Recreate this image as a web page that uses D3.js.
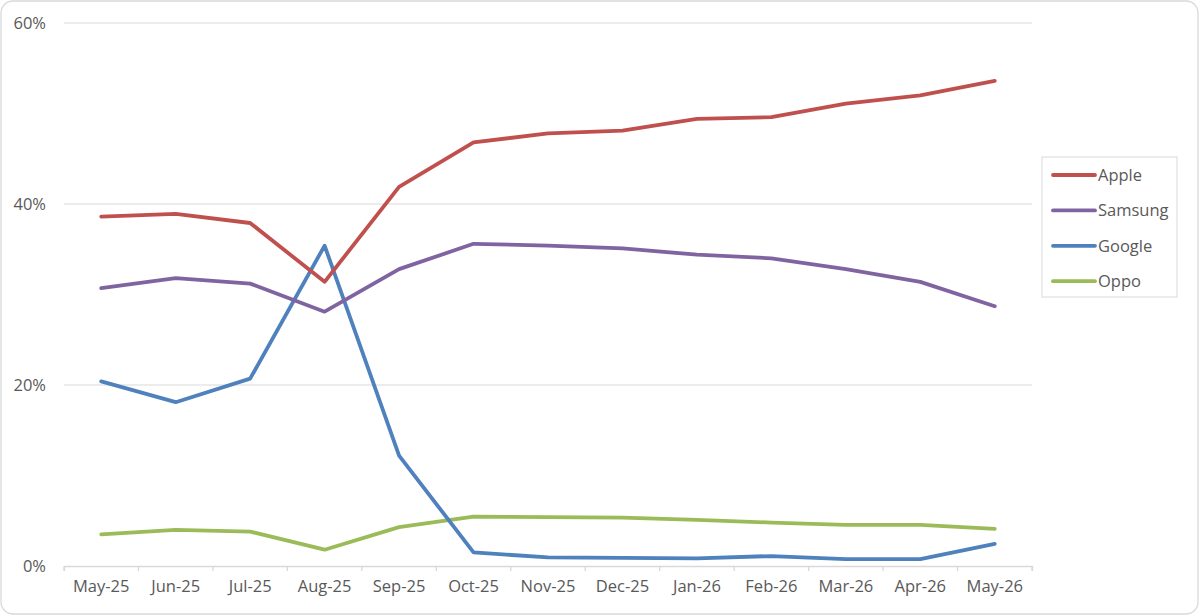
<!DOCTYPE html>
<html>
<head>
<meta charset="utf-8">
<script src="https://cdn.jsdelivr.net/npm/d3@7"></script>
<style>
  body { margin: 0; background: #fff; }
  svg { display: block; }
</style>
</head>
<body>
<div id="chart"></div>
<script>
var width = 1200;
var height = 616;

// months along the bottom
var months = ["May-25", "Jun-25", "Jul-25", "Aug-25", "Sep-25", "Oct-25", "Nov-25",
              "Dec-25", "Jan-26", "Feb-26", "Mar-26", "Apr-26", "May-26"];

// share in percent
var apple   = [38.6, 38.9, 37.9, 31.4, 41.9, 46.8, 47.8, 48.1, 49.4, 49.6, 51.1, 52.0, 53.6];
var samsung = [30.7, 31.8, 31.2, 28.1, 32.8, 35.6, 35.4, 35.1, 34.4, 34.0, 32.8, 31.4, 28.7];
var google  = [20.4, 18.1, 20.7, 35.4, 12.2, 1.5, 0.95, 0.9, 0.85, 1.1, 0.77, 0.75, 2.45];
var oppo    = [3.5, 4.0, 3.8, 1.8, 4.3, 5.45, 5.4, 5.35, 5.1, 4.8, 4.55, 4.55, 4.1];

var seriesNames = ["Apple", "Samsung", "Google", "Oppo"];
var seriesColors = ["#C0504D", "#8064A2", "#4F81BD", "#9BBB59"];
var yTicks = [0, 20, 40, 60];

var seriesData = [apple, samsung, google, oppo];

var svg = d3.select("#chart")
            .append("svg")
            .attr("width", width)
            .attr("height", height)
            .style("font-family", "'Open Sans', sans-serif");

// outer frame
svg.append("rect")
    .attr("x", 1)
    .attr("y", 1)
    .attr("width", width - 3)
    .attr("height", height - 3)
    .attr("rx", 12)
    .attr("fill", "#fff")
    .attr("stroke", "#d9d9d9")
    .attr("stroke-width", 1.3);

var x = d3.scaleBand()
          .domain(months)
          .range([64, 1032]);

var y = d3.scaleLinear()
          .domain([0, 60])
          .range([566, 23]);

// gridlines
svg.append("g")
    .selectAll("line")
    .data(yTicks.filter(d => d > 0))
    .join("line")
    .attr("x1", 64)
    .attr("x2", 1032)
    .attr("y1", d => y(d))
    .attr("y2", d => y(d))
    .attr("stroke", "#d9d9d9")
    .attr("stroke-width", 1);

// y labels
svg.append("g")
    .selectAll("text")
    .data(yTicks)
    .join("text")
    .attr("x", 46)
    .attr("y", d => y(d))
    .attr("dy", "0.35em")
    .attr("text-anchor", "end")
    .attr("fill", "#595959")
    .style("font-size", "16.5px")
    .text(d => d + "%");

// x axis
var xAxis = d3.axisBottom(x)
              .tickSize(5)
              .tickPadding(9);
var gx = svg.append("g")
    .attr("transform", "translate(0,566)")
    .call(xAxis);
gx.select(".domain").attr("stroke", "#d9d9d9").attr("stroke-width", 1.3);
// ticks sit on the category boundaries, not the centres
gx.selectAll(".tick line").remove();
gx.selectAll(".tick text")
    .attr("fill", "#595959")
    .style("font-size", "16.5px")
    .style("font-family", "'Open Sans', sans-serif");
var bounds = months.map(m => x(m)).concat([x.range()[1]]);
gx.append("g")
    .selectAll("line")
    .data(bounds)
    .join("line")
    .attr("x1", d => d)
    .attr("x2", d => d)
    .attr("y1", 0)
    .attr("y2", 5)
    .attr("stroke", "#d9d9d9")
    .attr("stroke-width", 1.3);

var line = d3.line()
             .x((d, i) => x(months[i]) + x.bandwidth() / 2)
             .y(d => y(d))
             .curve(d3.curveLinear);

// draw Oppo first so Apple ends on top
var order = [3, 2, 1, 0];
order.forEach(function(k) {
    svg.append("path")
        .datum(seriesData[k])
        .attr("d", line)
        .attr("fill", "none")
        .attr("stroke", seriesColors[k])
        .attr("stroke-width", 3.8)
        .attr("stroke-linejoin", "round")
        .attr("stroke-linecap", "round");
});

// legend
var legend = svg.append("g");
legend.append("rect")
    .attr("x", 1042)
    .attr("y", 157)
    .attr("width", 135)
    .attr("height", 140)
    .attr("fill", "#fff")
    .attr("stroke", "#d9d9d9")
    .attr("stroke-width", 1);

var rows = legend.selectAll("g.row")
    .data(seriesNames)
    .join("g")
    .attr("class", "row")
    .attr("transform", (d, i) => "translate(0," + (175 + i * 35.4) + ")");

rows.append("line")
    .attr("x1", 1053)
    .attr("x2", 1095)
    .attr("y1", 0)
    .attr("y2", 0)
    .attr("stroke", (d, i) => seriesColors[i])
    .attr("stroke-width", 3.8)
    .attr("stroke-linecap", "round");

rows.append("text")
    .attr("x", 1098)
    .attr("y", 0)
    .attr("dy", "0.35em")
    .attr("fill", "#595959")
    .style("font-size", "16.5px")
    .text(d => d);
</script>
</body>
</html>
